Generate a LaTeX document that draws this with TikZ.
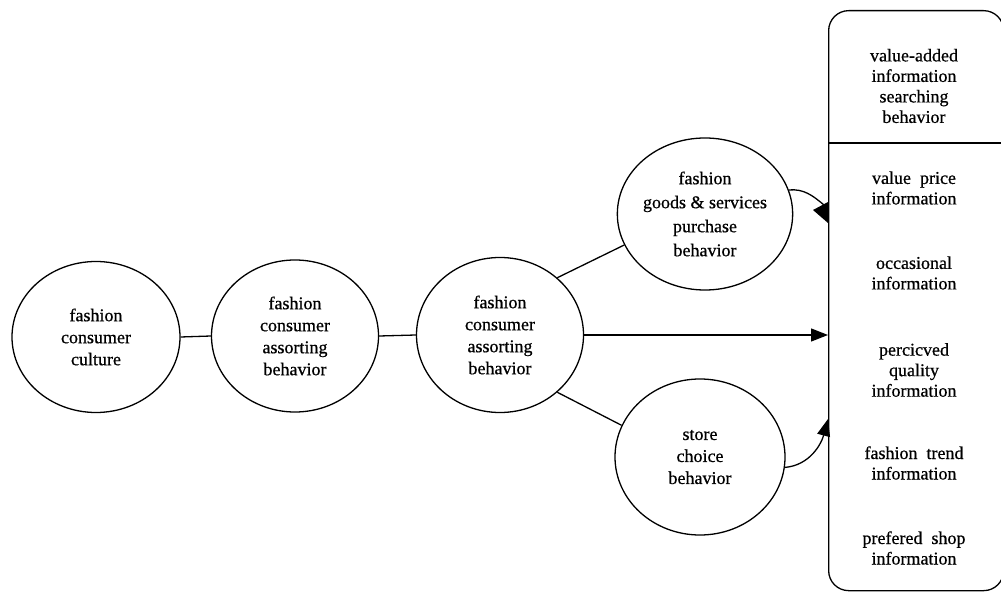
\documentclass[tikz,border=0pt]{standalone}
\usepackage{fontspec}
\setmainfont{Liberation Serif}[BoldFont={Liberation Serif},BoldFeatures={FakeBold=0.6}]
\usetikzlibrary{shapes.geometric,arrows.meta}
\begin{document}
\begin{tikzpicture}[x=1pt,y=-1pt,
  stage/.style={ellipse,draw,line width=1.3pt,inner sep=0pt,align=center,
    font=\fontsize{18}{22}\selectfont\bfseries},
  link/.style={line width=1.3pt},
  feed/.style={line width=1.3pt,-{Triangle[length=17pt,width=13pt]}},
  info/.style={align=center,font=\fontsize{18}{20.5}\selectfont\bfseries}]
\useasboundingbox (0,0) rectangle (1001,593);

% behaviour chain
\node[stage,minimum width=168pt,minimum height=151pt] (e1) at (96,337) {fashion\\consumer\\culture};
\node[stage,minimum width=167pt,minimum height=152pt] (e2) at (295,336) {fashion\\consumer\\assorting\\behavior};
\node[stage,minimum width=167pt,minimum height=155pt] (e3) at (500,335) {fashion\\consumer\\assorting\\behavior};
\node[stage,minimum width=170pt,minimum height=152pt,font=\fontsize{18}{24}\selectfont\bfseries] (e4) at (705,214) {fashion\\goods \& services\\purchase\\behavior};
\node[stage,minimum width=170pt,minimum height=156pt] (e5) at (700,457) {store\\choice\\behavior};

% information box
\node[draw,line width=1.3pt,rounded corners=20pt,minimum width=175pt,minimum height=580pt,
  anchor=north west,inner sep=0pt] (bx) at (828,10) {};
\draw[link] (bx.west |- 0,143) -- (bx.east |- 0,143);

\node[info] (h)  at (914,86)  {value-added\\information\\searching\\behavior};
\node[info] (i1) at (914,188) {value~ price\\information};
\node[info] (i2) at (914,273) {occasional\\information};
\node[info] (i3) at (914,370) {percicved\\quality\\information};
\node[info] (i4) at (914,463) {fashion~ trend\\information};
\node[info] (i5) at (914,548) {prefered~ shop\\information};

% connectors
\draw[link] (e1.east) -- (e2.west);
\draw[link] (e2.east) -- (e3.west);
\draw[link] (e3.45) -- (e4.201);
\draw[link] (e3.-45) -- (e5.158);
\draw[feed] (e3.east) -- (e3.east -| bx.west);

\coordinate (ta) at (824,205);
\draw[link] (e4.16) to[out=5,in=140] (ta);
\fill (813,210) -- (828,202) -- (828,223) -- cycle;

\coordinate (tb) at (828,419);
\draw[feed] (e5.-7) to[out=5,in=-105] (tb);
\end{tikzpicture}
\end{document}
